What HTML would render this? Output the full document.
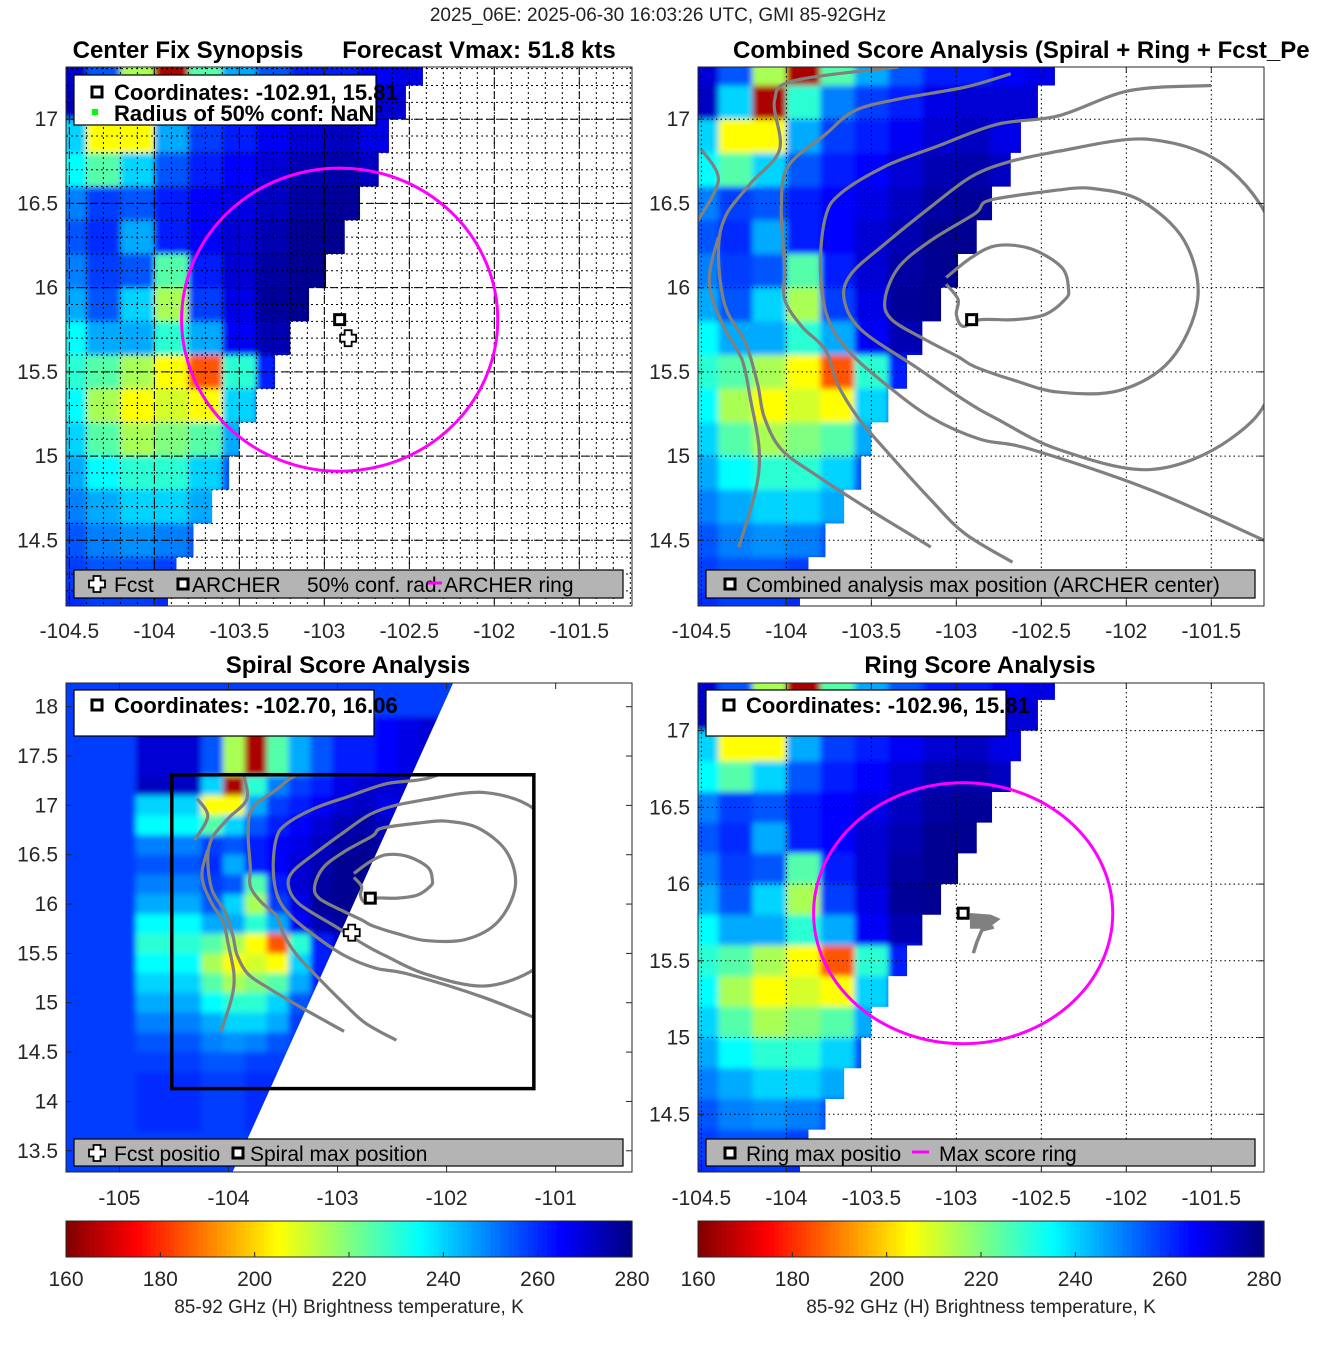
<!DOCTYPE html>
<html><head><meta charset="utf-8">
<style>
body{margin:0;background:#fff;}
svg{display:block;font-family:"Liberation Sans",sans-serif;}
</style></head>
<body>
<svg id="fig" width="1317" height="1350" viewBox="0 0 1317 1350">
<defs><filter id="blur" x="-5%" y="-5%" width="110%" height="110%"><feGaussianBlur stdDeviation="3"/></filter></defs>
<text x="658" y="21" text-anchor="middle" font-size="19" fill="#222">2025_06E: 2025-06-30 16:03:26 UTC, GMI 85-92GHz</text>
<text x="188" y="58" text-anchor="middle" font-size="24" font-weight="bold">Center Fix Synopsis</text>
<text x="479" y="58" text-anchor="middle" font-size="24" font-weight="bold">Forecast Vmax: 51.8 kts</text>
<text x="733" y="58" font-size="24" font-weight="bold">Combined Score Analysis (Spiral + Ring + Fcst_Pe</text>
<text x="348" y="673" text-anchor="middle" font-size="24" font-weight="bold">Spiral Score Analysis</text>
<text x="980" y="673" text-anchor="middle" font-size="24" font-weight="bold">Ring Score Analysis</text>
</svg>
<script>
// ---- data ----
const gridLons = [-104.5,-104.3,-104.1,-103.9,-103.7,-103.5,-103.3,-103.1,-102.9,-102.7,-102.5,-102.3,-102.1,-101.9,-101.7,-101.5,-101.3];
const gridLats = [17.3,17.1,16.9,16.7,16.5,16.3,16.1,15.9,15.7,15.5,15.3,15.1,14.9,14.7,14.5,14.3,14.1];
const tbRows = [
 [270,255,215,165,225,245,255,262,262,265,268,270,270,270,270,270,270],
 [272,240,165,230,250,258,262,268,270,270,270,270,270,270,270,270,270],
 [240,205,205,245,258,262,266,270,272,268,270,270,270,270,270,270,270],
 [235,225,240,255,262,265,270,274,275,272,270,270,270,270,270,270,270],
 [250,258,255,262,265,268,272,276,277,275,270,270,270,270,270,270,270],
 [255,260,245,262,265,270,274,278,278,275,270,270,270,270,270,270,270],
 [250,258,255,225,262,270,276,278,278,275,270,270,270,270,270,270,270],
 [245,255,240,215,258,268,277,278,278,275,270,270,270,270,270,270,270],
 [235,245,245,230,245,266,274,276,275,270,270,270,270,270,270,270,270],
 [230,225,215,205,185,230,262,270,270,270,270,270,270,270,270,270,270],
 [235,215,205,210,205,240,262,270,270,270,270,270,270,270,270,270,270],
 [240,225,215,220,225,245,262,270,270,270,270,270,270,270,270,270,270],
 [245,235,230,230,240,255,262,270,270,270,270,270,270,270,270,270,270],
 [250,245,240,240,245,258,262,270,270,270,270,270,270,270,270,270,270],
 [255,250,248,250,255,258,262,270,270,270,270,270,270,270,270,270,270],
 [258,255,255,258,258,260,262,270,270,270,270,270,270,270,270,270,270],
 [260,258,258,260,260,262,262,270,270,270,270,270,270,270,270,270,270]
];
const swathEdgeLons = [-102.42,-102.52,-102.62,-102.68,-102.79,-102.88,-102.99,-103.09,-103.20,-103.29,-103.40,-103.50,-103.56,-103.66,-103.77,-103.87,-103.92];
const spiralSwathLon = [-101.94,-103.96];
const spiralSwathLat = [18.24,13.29];
const spiralBgTb = 258;
const spiralGridShift = [0.15, 0.1];

const contourLons = [
 [-103.06,-102.99,-103.00,-102.96,-102.86,-102.66,-102.48,-102.36,-102.34,-102.38,-102.56,-102.76,-102.91,-103.06],
 [-102.40,-102.80,-102.89,-103.15,-103.34,-103.42,-103.38,-103.18,-102.99,-102.89,-102.66,-102.40,-102.04,-101.74,-101.58,-101.66,-101.92,-102.21,-102.40],
 [-102.40,-102.68,-102.91,-103.15,-103.42,-103.62,-103.66,-103.56,-103.24,-102.95,-102.76,-102.40,-101.86,-101.39,-101.13,-101.10,-101.39,-101.86,-102.40],
 [-101.50,-101.98,-102.40,-102.76,-103.11,-103.42,-103.68,-103.77,-103.80,-103.76,-103.64,-103.42,-103.15,-102.86,-102.56,-101.86,-101.19],
 [-102.68,-102.95,-103.34,-103.60,-103.77,-103.99,-104.03,-104.01,-104.01,-103.91,-103.77,-103.70,-103.58,-103.42,-103.15,-102.95,-102.67],
 [-103.34,-103.95,-104.07,-104.04,-104.21,-104.36,-104.40,-104.36,-104.24,-104.17,-104.13,-104.03,-103.83,-103.54,-103.15],
 [-104.28,-104.18,-104.16,-104.21,-104.26,-104.36,-104.44,-104.45,-104.40],
 [-104.50,-104.40,-104.52]
];
const contourLats = [
 [16.02,15.93,15.84,15.77,15.81,15.81,15.84,15.93,15.99,16.12,16.23,16.25,16.18,16.06],
 [16.58,16.52,16.44,16.28,16.12,15.93,15.81,15.69,15.59,15.53,15.45,15.38,15.39,15.57,15.93,16.28,16.52,16.59,16.58],
 [16.81,16.75,16.66,16.48,16.26,16.08,15.93,15.75,15.53,15.33,15.22,15.04,14.92,15.10,15.45,16.22,16.70,16.88,16.81],
 [17.20,17.17,17.02,16.97,16.84,16.72,16.56,16.42,16.12,15.83,15.63,15.43,15.23,15.10,15.04,14.80,14.50],
 [17.27,17.19,17.12,17.05,16.91,16.72,16.48,16.12,15.93,15.77,15.63,15.43,15.23,15.04,14.74,14.54,14.37],
 [17.31,17.23,17.11,16.82,16.62,16.42,16.20,15.89,15.67,15.43,15.23,15.04,14.89,14.70,14.46],
 [14.46,14.80,15.04,15.33,15.57,15.75,15.95,16.10,16.30],
 [16.82,16.64,16.40]
];
const spiralContourShift = [0.21, 0.25];
const ringContourLons = [-102.92,-102.80,-102.76,-102.82,-102.92];
const ringContourLats = [15.80,15.79,15.77,15.72,15.72];
const ringContour2Lons = [-102.78,-102.85,-102.88,-102.90];
const ringContour2Lats = [15.72,15.70,15.62,15.55];

const archer1 = [-102.91,15.81], fcst1 = [-102.86,15.70];
const archer2 = [-102.91,15.81];
const spiralMax = [-102.70,16.06], fcst3 = [-102.87,15.71];
const ringMax = [-102.96,15.81];
const ring1Radius = [0.93,0.90];
const ring4Center = [-102.96,15.81], ring4Radius = [0.88,0.85];
const spiralBoxLon = [-104.52,-101.20], spiralBoxLat = [17.31,14.13];

const cbarTicks = [160,180,200,220,240,260,280];
const xTicksA = [-104.5,-104,-103.5,-103,-102.5,-102,-101.5];
const yTicksA = [14.5,15,15.5,16,16.5,17];
const xTicks3 = [-105,-104,-103,-102,-101];
const yTicks3 = [13.5,14,14.5,15,15.5,16,16.5,17,17.5,18];

// ---- helpers ----
const NS='http://www.w3.org/2000/svg';
const svg=document.getElementById('fig');
function mk(tag,attrs,parent){const e=document.createElementNS(NS,tag);for(const k in attrs)e.setAttribute(k,attrs[k]);(parent||svg).appendChild(e);return e;}
function jet(T){let v=(280-T)/120;v=Math.max(0,Math.min(1,v));const c=x=>Math.round(255*Math.max(0,Math.min(1,1.5-Math.abs(4*v-x))));return `rgb(${c(3)},${c(2)},${c(1)})`;}
function axis(px0,px1,py0,py1,lon0,lon1,latT,latB){return{px0,px1,py0,py1,X:l=>px0+(l-lon0)/(lon1-lon0)*(px1-px0),Y:a=>py0+(latT-a)/(latT-latB)*(py1-py0),lon0,lon1,latT,latB};}
const A1=axis(66,632,67,606,-104.52,-101.19,17.31,14.11);
const A2=axis(698,1264,67,606,-104.52,-101.19,17.31,14.11);
const A3=axis(66,632,683,1172,-105.49,-100.30,18.24,13.285);
const A4=axis(698,1264,683,1172,-104.52,-101.19,17.31,14.124);
let clipId=0;
function clipRect(A){const id='c'+(clipId++);const cp=mk('clipPath',{id});mk('rect',{x:A.px0,y:A.py0,width:A.px1-A.px0,height:A.py1-A.py0},cp);return id;}
function swathPath(A){let d=`M${A.px0},${A.py0}`;for(let j=0;j<gridLats.length;j++){const x=A.X(swathEdgeLons[j]);d+=` L${x},${A.Y(gridLats[j]+0.1)} L${x},${A.Y(gridLats[j]-0.1)}`;}d+=` L${A.X(swathEdgeLons[gridLats.length-1])},${A.py1} L${A.px0},${A.py1} Z`;return d;}

function heatmap(A,name,swathD,shift){
  const sx=shift?shift[0]:0, sy=shift?shift[1]:0;
  const outer=mk('g',{'clip-path':`url(#${clipRect(A)})`});
  
  
  const id='c'+(clipId++);const cp=mk('clipPath',{id});mk('path',{d:swathD},cp);
  const g1=mk('g',{'clip-path':`url(#${id})`},outer);
  const g=mk('g',{filter:'url(#blur)'},g1);
  mk('rect',{x:A.px0-30,y:A.py0-30,width:A.px1-A.px0+60,height:A.py1-A.py0+60,fill:jet(spiralBgTb)},g);
  for(let j=0;j<gridLats.length;j++)for(let i=0;i<gridLons.length;i++){
    const ex=(i===0?0.4:0), ey0=(j===0?0.4:0), ey1=(j===gridLats.length-1?0.4:0), ex1=(i===gridLons.length-1?0.4:0);
    const x0=A.X(gridLons[i]+sx-0.1-ex),x1=A.X(gridLons[i]+sx+0.1+ex1),y0=A.Y(gridLats[j]+sy+0.1+ey0),y1=A.Y(gridLats[j]+sy-0.1-ey1);
    const r=mk('rect',{x:x0,y:y0,width:x1-x0+0.6,height:y1-y0+0.6,fill:jet(tbRows[j][i])},g);
    
    
  }
}
function grid(A,step,dash,color,w){
  const g=mk('g',{'clip-path':`url(#${clipRect(A)})`});
  
  
  for(let l=Math.ceil(A.lon0/step)*step;l<A.lon1;l+=step){const x=A.X(l);mk('line',{x1:x,x2:x,y1:A.py0,y2:A.py1,stroke:color,'stroke-width':w,'stroke-dasharray':dash},g);}
  for(let a=Math.ceil(A.latB/step)*step;a<A.latT;a+=step){const y=A.Y(a);mk('line',{x1:A.px0,x2:A.px1,y1:y,y2:y,stroke:color,'stroke-width':w,'stroke-dasharray':dash},g);}
}
function axesFrame(A,xt,yt,name,xLabelY){
  mk('rect',{x:A.px0,y:A.py0,width:A.px1-A.px0,height:A.py1-A.py0,fill:'none',stroke:'#262626','stroke-width':1});
  xt.forEach(v=>{const x=A.X(v);mk('line',{x1:x,x2:x,y1:A.py1,y2:A.py1-6,stroke:'#262626'});mk('line',{x1:x,x2:x,y1:A.py0,y2:A.py0+6,stroke:'#262626'});
    const t=mk('text',{x:x,y:xLabelY,'text-anchor':'middle','font-size':21,fill:'#262626'});t.textContent=String(v);
    
    });
  yt.forEach(v=>{const y=A.Y(v);mk('line',{x1:A.px0,x2:A.px0+6,y1:y,y2:y,stroke:'#262626'});mk('line',{x1:A.px1,x2:A.px1-6,y1:y,y2:y,stroke:'#262626'});
    const t=mk('text',{x:A.px0-8,y:y+7,'text-anchor':'end','font-size':21,fill:'#262626'});t.textContent=String(v);
    
    });
}
function smoothPath(pts){
  let d=`M${pts[0][0]},${pts[0][1]}`;
  for(let i=0;i<pts.length-1;i++){
    const p0=pts[Math.max(0,i-1)],p1=pts[i],p2=pts[i+1],p3=pts[Math.min(pts.length-1,i+2)];
    const c1=[p1[0]+(p2[0]-p0[0])/6,p1[1]+(p2[1]-p0[1])/6],c2=[p2[0]-(p3[0]-p1[0])/6,p2[1]-(p3[1]-p1[1])/6];
    d+=` C${c1[0]},${c1[1]} ${c2[0]},${c2[1]} ${p2[0]},${p2[1]}`;
  }
  return d;
}
function contours(A,dx,dy,clipId2,name){
  const g=mk('g',{'clip-path':`url(#${clipId2})`,fill:'none',stroke:'#808080','stroke-width':3.2,'stroke-linejoin':'round'});
  
  
  contourLons.forEach((ls,k)=>{const pts=ls.map((l,i)=>[A.X(l+dx),A.Y(contourLats[k][i]+dy)]);
    const p=mk('path',{d:smoothPath(pts)},g);
    
    });
}
function square(x,y,parent,name){const r=mk('rect',{x:x-5,y:y-5,width:10,height:10,fill:'#fff',stroke:'#000','stroke-width':3},parent);
  
  return r;}
function cross(x,y,parent,name){const s=3.5,l=8;const d=`M${x-s},${y-l}H${x+s}V${y-s}H${x+l}V${y+s}H${x+s}V${y+l}H${x-s}V${y+s}H${x-l}V${y-s}H${x-s}Z`;
  const p=mk('path',{d,fill:'#fff',stroke:'#000','stroke-width':1.8},parent);
  
  return p;}
function ellipse(A,c,r,name){const g=mk('g',{'clip-path':`url(#${clipRect(A)})`});
  const e=mk('ellipse',{cx:A.X(c[0]),cy:A.Y(c[1]),rx:A.X(c[0]+r[0])-A.X(c[0]),ry:A.Y(c[1])-A.Y(c[1]+r[1]),fill:'none',stroke:'#ff00ff','stroke-width':3},g);
  
  }
function txt(x,y,s,size,bold,name,anchor){const t=mk('text',{x,y,'font-size':size,'font-weight':bold?'bold':'normal','text-anchor':anchor||'start',fill:'#000'});t.textContent=s;
  
  return t;}
function box(x,y,w,h,fill,name){const r=mk('rect',{x,y,width:w,height:h,fill,stroke:'#000','stroke-width':1.2});
  
  return r;}

// ---- Panel 1 ----
heatmap(A1,'panel1',swathPath(A1));
grid(A1,0.1,'2,3','#000',1);
grid(A1,0.5,'8,4','#000',1);
ellipse(A1,archer1,ring1Radius,'archer-ring');
square(A1.X(archer1[0]),A1.Y(archer1[1]),svg,'archer-center-marker');
cross(A1.X(fcst1[0]),A1.Y(fcst1[1]),svg,'forecast-position-marker');
axesFrame(A1,xTicksA,yTicksA,'panel1',638);
box(74,75,302,50,'#fff','panel1-info-box');
square(97,92,svg,'legend-square-icon');
mk('rect',{x:92,y:109,width:6,height:6,fill:'#00ff00'});
txt(114,100,'Coordinates: -102.91, 15.81',22,true,'panel1-coordinates');
txt(114,121,'Radius of 50% conf: NaN°',22,true,'panel1-radius');
box(74,570,549,28,'#b4b4b4','panel1-legend');
cross(97,584,svg,'legend-fcst-icon');
txt(114,592,'Fcst',21,false,'legend-fcst');
square(183,584,svg,'legend-archer-icon');
txt(192,592,'ARCHER',21,false,'legend-archer');
txt(307,592,'50% conf. rad.',21,false,'legend-conf-radius');
mk('line',{x1:428,x2:442,y1:583,y2:583,stroke:'#ff00ff','stroke-width':3});
txt(444,592,'ARCHER ring',21,false,'legend-archer-ring');

// ---- Panel 2 ----
heatmap(A2,'panel2',swathPath(A2));
grid(A2,0.5,'1.5,3','#000',1);
contours(A2,0,0,clipRect(A2),'panel2');
square(A2.X(archer2[0]),A2.Y(archer2[1]),svg,'combined-max-marker');
axesFrame(A2,xTicksA,yTicksA,'panel2',638);
box(706,570,549,28,'#b4b4b4','panel2-legend');
square(730,584,svg,'legend-combined-icon');
txt(746,592,'Combined analysis max position (ARCHER center)',21,false,'legend-combined');

// ---- Panel 3 ----
(function(){
  const d=`M${A3.px0},${A3.py0} L${A3.X(spiralSwathLon[0])},${A3.Y(spiralSwathLat[0])} L${A3.X(spiralSwathLon[1])},${A3.Y(spiralSwathLat[1])} L${A3.px0},${A3.py1} Z`;
  heatmap(A3,'panel3',d,spiralGridShift);
})();
const boxClip='c'+(clipId++);
{const cp=mk('clipPath',{id:boxClip});mk('rect',{x:A3.X(spiralBoxLon[0]),y:A3.Y(spiralBoxLat[0]),width:A3.X(spiralBoxLon[1])-A3.X(spiralBoxLon[0]),height:A3.Y(spiralBoxLat[1])-A3.Y(spiralBoxLat[0])},cp);}
contours(A3,spiralContourShift[0],spiralContourShift[1],boxClip,'panel3');
{const r=mk('rect',{x:A3.X(spiralBoxLon[0]),y:A3.Y(spiralBoxLat[0]),width:A3.X(spiralBoxLon[1])-A3.X(spiralBoxLon[0]),height:A3.Y(spiralBoxLat[1])-A3.Y(spiralBoxLat[0]),fill:'none',stroke:'#000','stroke-width':3.5});
 
 }
square(A3.X(spiralMax[0]),A3.Y(spiralMax[1]),svg,'spiral-max-marker');
cross(A3.X(fcst3[0]),A3.Y(fcst3[1]),svg,'panel3-forecast-marker');
axesFrame(A3,xTicks3,yTicks3,'panel3',1205);
box(74,690,300,46,'#fff','panel3-info-box');
square(97,705,svg,'legend-square-icon');
txt(114,713,'Coordinates: -102.70, 16.06',22,true,'panel3-coordinates');
box(74,1139,549,27,'#b4b4b4','panel3-legend');
cross(97,1153,svg,'legend-fcst-icon');
txt(114,1161,'Fcst positio',21,false,'legend-fcst-position');
square(238,1153,svg,'legend-spiral-icon');
txt(250,1161,'Spiral max position',21,false,'legend-spiral-max');

// ---- Panel 4 ----
heatmap(A4,'panel4',swathPath(A4));
grid(A4,0.5,'1.5,3','#000',1);
{const g=mk('g',{fill:'none',stroke:'#808080','stroke-width':3.5});
 
 
 mk('polyline',{points:ringContourLons.map((l,i)=>`${A4.X(l)},${A4.Y(ringContourLats[i])}`).join(' '),fill:'#808080'},g);
 mk('polyline',{points:ringContour2Lons.map((l,i)=>`${A4.X(l)},${A4.Y(ringContour2Lats[i])}`).join(' ')},g);}
ellipse(A4,ring4Center,ring4Radius,'max-score-ring');
square(A4.X(ringMax[0]),A4.Y(ringMax[1]),svg,'ring-max-marker');
axesFrame(A4,xTicksA,yTicksA,'panel4',1205);
box(706,690,300,46,'#fff','panel4-info-box');
square(729,705,svg,'legend-square-icon');
txt(746,713,'Coordinates: -102.96, 15.81',22,true,'panel4-coordinates');
box(706,1139,549,27,'#b4b4b4','panel4-legend');
square(730,1153,svg,'legend-ring-icon');
txt(746,1161,'Ring max positio',21,false,'legend-ring-max');
mk('line',{x1:912,x2:929,y1:1152,y2:1152,stroke:'#ff00ff','stroke-width':3});
txt(939,1161,'Max score ring',21,false,'legend-max-score-ring');

// ---- Colorbars ----
[[66,632,'left'],[698,1264,'right']].forEach(([x0,x1,side])=>{
  const g=mk('g',{});
  
  
  const n=120;for(let k=0;k<n;k++){const T=160+120*(k+0.5)/n;mk('rect',{x:x0+(x1-x0)*k/n,y:1221,width:(x1-x0)/n+0.6,height:36,fill:jet(T)},g);}
  mk('rect',{x:x0,y:1221,width:x1-x0,height:36,fill:'none',stroke:'#262626'},g);
  cbarTicks.forEach(v=>{const x=x0+(v-160)/120*(x1-x0);mk('line',{x1:x,x2:x,y1:1257,y2:1252,stroke:'#262626'},g);
    const t=mk('text',{x,y:1286,'text-anchor':'middle','font-size':21,fill:'#262626'},g);t.textContent=String(v);
    
    });
  const l=mk('text',{x:(x0+x1)/2,y:1313,'text-anchor':'middle','font-size':19,fill:'#262626'},g);l.textContent='85-92 GHz (H) Brightness temperature, K';
  
  
});
</script>
</body></html>
